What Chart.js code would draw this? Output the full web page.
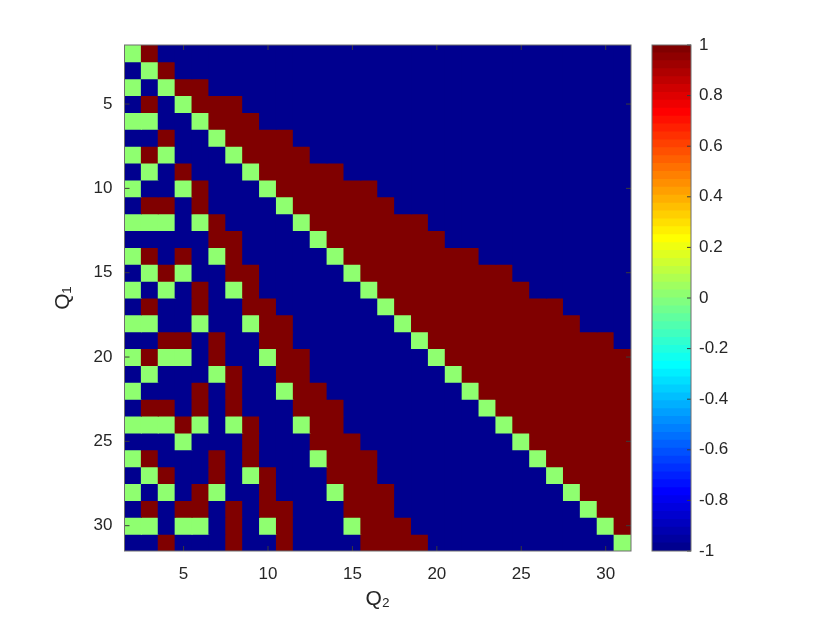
<!DOCTYPE html>
<html>
<head>
<meta charset="utf-8">
<script src="https://cdn.jsdelivr.net/npm/chart.js@4"></script>
<style>
  html, body { margin: 0; padding: 0; background: #fff; }
  #wrap { position: relative; width: 830px; height: 623px; }
  #main { position: absolute; left: 0; top: 0; }
  #cbar { position: absolute; left: 640px; top: 0; }
</style>
</head>
<body>
<div id="wrap">
  <canvas id="main" width="830" height="623"></canvas>
  <canvas id="cbar" width="190" height="623"></canvas>
</div>
<script>
// Eixos: Q2 (colunas) e Q1 (linhas)
var q2Labels = ['2','3','4','5','6','7','8','9','10','11','12','13','14','15','16',
                '17','18','19','20','21','22','23','24','25','26','27','28','29','30','31'];
var q1Values = [2,3,4,5,6,7,8,9,10,11,12,13,14,15,16,17,18,19,20,21,22,23,24,25,26,27,28,29,30,31];
var xTicks = [5, 10, 15, 20, 25, 30];
var yTicks = [5, 10, 15, 20, 25, 30];
var cbTicks = [-1, -0.8, -0.6, -0.4, -0.2, 0, 0.2, 0.4, 0.6, 0.8, 1];

// Linhas da matriz (Q1 = 2..31), colunas Q2 = 2..31 em grupos de 5
// '-' = -1, '0' = 0, '+' = 1
var heatRows = [
  '0+--- ----- ----- ----- ----- -----',
  '-0+-- ----- ----- ----- ----- -----',
  '0-0++ ----- ----- ----- ----- -----',
  '-+-0+ ++--- ----- ----- ----- -----',
  '00--0 +++-- ----- ----- ----- -----',
  '--+-- 0++++ ----- ----- ----- -----',
  '0+0-- -0+++ +---- ----- ----- -----',
  '-0-+- --0++ +++-- ----- ----- -----',
  '0--0+ ---0+ +++++ ----- ----- -----',
  '-++-+ ----0 +++++ +---- ----- -----',
  '000-0 +---- 0++++ +++-- ----- -----',
  '----- ++--- -0+++ ++++- ----- -----',
  '0+-+- 0+--- --0++ +++++ +---- -----',
  '-0+0- -++-- ---0+ +++++ +++-- -----',
  '0-0-+ -0+-- ----0 +++++ ++++- -----',
  '-+--+ --++- ----- 0++++ +++++ +----',
  '00--0 --0++ ----- -0+++ +++++ ++---',
  '--++- +--++ ----- --0++ +++++ ++++-',
  '0+00- +--0+ +---- ---0+ +++++ +++++',
  '-0--- 0+--+ +---- ----0 +++++ +++++',
  '0---+ -+--0 ++--- ----- 0++++ +++++',
  '-++-+ -+--- +++-- ----- -0+++ +++++',
  '000+0 -0+-- 0++-- ----- --0++ +++++',
  '---0- --+-- -+++- ----- ---0+ +++++',
  '0+--- +-+-- -0+++ ----- ----0 +++++',
  '-0+-- +-0+- --+++ ----- ----- 0++++',
  '0-0-+ 0--+- --0++ +---- ----- -0+++',
  '-+-++ -+-++ ---++ +---- ----- --0++',
  '00-00 -+-0+ ---0+ ++--- ----- ---0+',
  '--+-- -+--+ ----+ +++-- ----- ----0'
];

// Colormap jet (64 cores), como no MATLAB
function jet(i) {
    var u = function (k) {
        if (k < 1 || k > 47) return 0;
        if (k <= 16) return k / 16;
        if (k <= 31) return 1;
        return (48 - k) / 16;
    };
    var r = u(i - 24), g = u(i - 8), b = u(i + 8);
    return 'rgb(' + Math.round(r * 255) + ',' + Math.round(g * 255) + ',' + Math.round(b * 255) + ')';
}

function corValor(v) {
    var idx = Math.min(64, Math.floor((v + 1) / 2 * 64) + 1);
    return jet(idx);
}

var simbolo = { '-': -1, '0': 0, '+': 1 };
var heat = heatRows.map(function (s) {
    return s.replace(/ /g, '').split('').map(function (c) { return simbolo[c]; });
});

var fonte = 'Liberation Sans, Arial, Helvetica, sans-serif';
var corTexto = '#262626';

// Moldura e marcas para dentro (estilo MATLAB)
function desenharMoldura(chart, xs, ysEsq, ysDir, len) {
    var ctx = chart.ctx, a = chart.chartArea;
    ctx.save();
    ctx.strokeStyle = '#3a3a3a';
    ctx.lineWidth = 1;
    ctx.beginPath();
    xs.forEach(function (px) {
        ctx.moveTo(px, a.bottom); ctx.lineTo(px, a.bottom - len);
        ctx.moveTo(px, a.top); ctx.lineTo(px, a.top + len);
    });
    ysEsq.forEach(function (py) {
        ctx.moveTo(a.left, py); ctx.lineTo(a.left + len, py);
    });
    ysDir.forEach(function (py) {
        ctx.moveTo(a.right, py); ctx.lineTo(a.right - len, py);
    });
    ctx.stroke();
    ctx.strokeStyle = '#6e6e6e';
    ctx.strokeRect(a.left, a.top, a.right - a.left, a.bottom - a.top);
    ctx.restore();
}

// Gráfico principal (mapa de calor com barras flutuantes)
var ctxMain = document.getElementById('main').getContext('2d');
var mainChart = new Chart(ctxMain, {
    type: 'bar',
    data: {
        labels: q2Labels,
        datasets: heat.map(function (linha, r) {
            return {
                data: q2Labels.map(function () { return [q1Values[r] - 0.5, q1Values[r] + 0.5]; }),
                backgroundColor: linha.map(corValor),
                borderWidth: 0,
                inflateAmount: 0.5,
                barPercentage: 1,
                categoryPercentage: 1
            };
        })
    },
    options: {
        responsive: false,
        animation: false,
        layout: { padding: { left: 40, right: 199, top: 45, bottom: 0 } },
        plugins: {
            legend: { display: false },
            tooltip: { enabled: false }
        },
        scales: {
            x: {
                type: 'category',
                stacked: true,
                offset: true,
                grid: { display: false },
                border: { display: false },
                ticks: {
                    autoSkip: false,
                    maxRotation: 0,
                    padding: 5,
                    color: corTexto,
                    font: { family: fonte, size: 17 },
                    callback: function (v, i) {
                        return xTicks.indexOf(Number(q2Labels[i])) >= 0 ? q2Labels[i] : '';
                    }
                },
                title: {
                    display: true, text: 'Q₂', color: corTexto,
                    font: { family: fonte, size: 21 }, padding: { top: 0, bottom: 11 }
                },
                afterFit: function (s) { s.height = 72; }
            },
            y: {
                type: 'linear',
                reverse: true,
                min: 1.5,
                max: 31.5,
                grid: { display: false },
                border: { display: false },
                ticks: { padding: 4, color: corTexto, font: { family: fonte, size: 17 } },
                afterBuildTicks: function (s) { s.ticks = yTicks.map(function (v) { return { value: v }; }); },
                title: {
                    display: true, text: 'Q₁', color: corTexto,
                    font: { family: fonte, size: 21 }, padding: { top: 11, bottom: 0 }
                },
                afterFit: function (s) { s.width = 84.5; }
            }
        }
    },
    plugins: [{
        id: 'moldura',
        afterDraw: function (chart) {
            var xs = xTicks.map(function (t) { return chart.scales.x.getPixelForValue(q2Labels.indexOf(String(t))); });
            var ys = yTicks.map(function (t) { return chart.scales.y.getPixelForValue(t); });
            desenharMoldura(chart, xs, ys, ys, 5);
        }
    }]
});

// Barra de cores
var bandas = [];
for (var i = 1; i <= 64; i++) bandas.push(i);
var ctxCbar = document.getElementById('cbar').getContext('2d');
var cbarChart = new Chart(ctxCbar, {
    type: 'bar',
    data: {
        labels: [''],
        datasets: bandas.map(function (i) {
            return {
                data: [[-1 + (i - 1) * 2 / 64, -1 + i * 2 / 64]],
                backgroundColor: jet(i),
                borderWidth: 0,
                inflateAmount: 0.5,
                barPercentage: 1,
                categoryPercentage: 1
            };
        })
    },
    options: {
        responsive: false,
        animation: false,
        layout: { padding: { left: 12, right: 0, top: 45, bottom: 72 } },
        plugins: { legend: { display: false }, tooltip: { enabled: false } },
        scales: {
            x: { type: 'category', stacked: true, offset: true, display: false },
            y: {
                type: 'linear',
                position: 'right',
                min: -1,
                max: 1,
                grid: { display: false },
                border: { display: false },
                ticks: {
                    padding: 0, color: corTexto, font: { family: fonte, size: 17 },
                    callback: function (v) { return String(Math.round(v * 10) / 10); }
                },
                afterBuildTicks: function (s) { s.ticks = cbTicks.map(function (v) { return { value: v }; }); },
                afterFit: function (s) { s.width = 139; }
            }
        }
    },
    plugins: [{
        id: 'molduraCbar',
        afterDraw: function (chart) {
            var ys = cbTicks.map(function (t) { return chart.scales.y.getPixelForValue(t); });
            desenharMoldura(chart, [], [], ys, 4);
        }
    }]
});
</script>
</body>
</html>
